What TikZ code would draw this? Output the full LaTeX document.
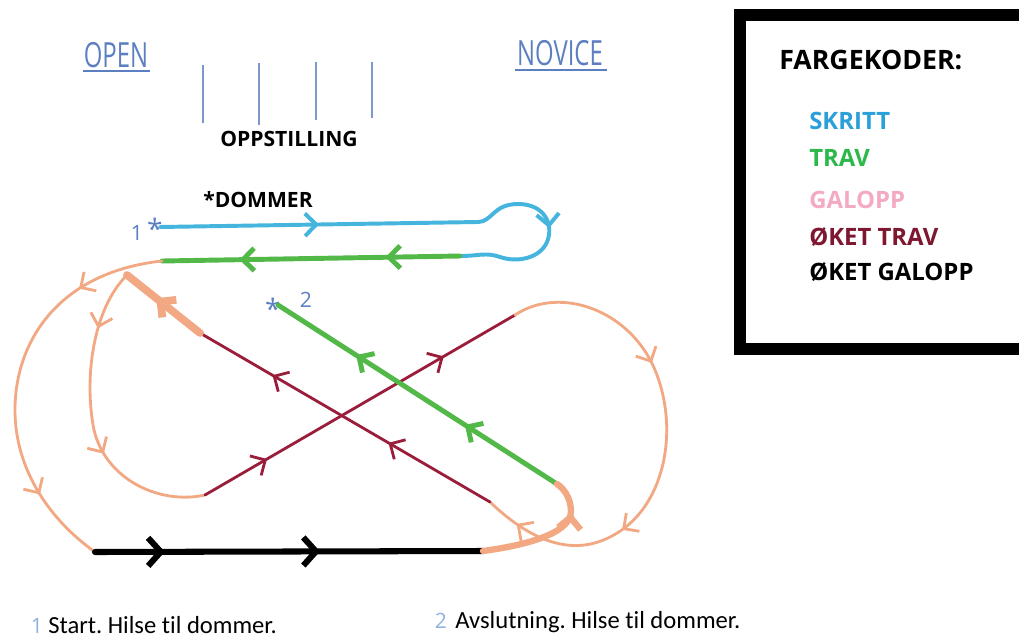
\documentclass[tikz,border=0pt]{standalone}
\usepackage{fontspec}
\setmainfont{Open Sans}
\newfontfamily\calib[Ligatures={NoCommon}]{Carlito}
\newfontfamily\hand{Open Sans}
\usetikzlibrary{arrows.meta,decorations.markings}
\frenchspacing
\definecolor{skblue}{HTML}{45B5DE}
\definecolor{legblue}{HTML}{2A9FD8}
\definecolor{trgreen}{HTML}{52B848}
\definecolor{leggreen}{HTML}{2DB84B}
\definecolor{galorange}{HTML}{F2A882}
\definecolor{legpink}{HTML}{F4AAC4}
\definecolor{okred}{HTML}{9A1D3C}
\definecolor{legred}{HTML}{7E1830}
\definecolor{penblue}{HTML}{5B7FC0}
\definecolor{lightpen}{HTML}{8FB3DF}
\tikzset{
  ar/.style={postaction={decorate,decoration={markings,mark=at position #1 with {\arrow{Straight Barb[length=8pt,width=16pt]}}}}},
  arb/.style={postaction={decorate,decoration={markings,mark=at position #1 with {\arrow{Straight Barb[length=9pt,width=20pt]}}}}},
  skrpath/.style={draw=skblue,line width=2.8pt,line cap=round},
  travpath/.style={draw=trgreen,line width=3.5pt,line cap=round},
  galpath/.style={draw=galorange,line width=2pt,line cap=round},
  okpath/.style={draw=okred,line width=2pt,line cap=round},
  okgal/.style={draw=black,line width=4.3pt,line cap=round},
  handlbl/.style={text=penblue,font=\hand\fontsize{17}{20}\selectfont,inner sep=0pt},
  boldlbl/.style={font=\bfseries\fontsize{15}{17}\selectfont,inner sep=0pt},
  leg/.style={font=\bfseries\fontsize{17}{20}\selectfont,inner sep=0pt,anchor=west},
  foot/.style={font=\calib\fontsize{17.5}{20}\selectfont,inner sep=0pt,anchor=base west},
}
\begin{document}
\begin{tikzpicture}[x=0.025cm,y=-0.025cm]
\useasboundingbox (0,0) rectangle (1019,638);
\clip (0,0) rectangle (1019,638);
\fill[white] (0,0) rectangle (1019,638);
% headings
\node[handlbl] (open) at (116,55) {\scalebox{1}[1.45]{OPEN}};
\draw[penblue,line width=0.8pt] (83,71) -- (150,71);
\node[handlbl] (novice) at (560,53) {\scalebox{1}[1.45]{NOVICE}};
\draw[penblue,line width=0.8pt] (515,70) -- (607,70);
\foreach \x/\a/\b in {203/65/123,259/63/125,316/62/120,372/62/118}
  \draw[penblue!80,line width=0.8pt] (\x,\a) -- (\x,\b);
\node[boldlbl] (opp) at (289,139) {OPPSTILLING};
\node[boldlbl] (dom) at (258,200) {*DOMMER};
% coordinates
\coordinate (b0) at (160,227);
\coordinate (b1) at (478,222);
\coordinate (g0) at (460,256);
\coordinate (g1) at (162,261);
\coordinate (j1) at (127,275);
\coordinate (bk0) at (95,552);
\coordinate (bk1) at (483,551);
\coordinate (r0) at (205,495);
\coordinate (r1) at (515,315);
\coordinate (r2) at (490,502);
\coordinate (r3) at (200,333);
\coordinate (s0) at (557,484);
\coordinate (s1) at (278,305);
% start marks
\node[handlbl,font=\hand\fontsize{15}{16}\selectfont] (one) at (137,233) {1};
\node[text=penblue,font=\fontsize{20}{20}\selectfont,inner sep=0pt] (st1) at (155,229) {*};
\node[text=penblue,font=\fontsize{20}{20}\selectfont,inner sep=0pt] (st2) at (273,309) {*};
\node[handlbl,font=\hand\fontsize{15}{16}\selectfont] (two) at (306,300) {2};
% SKRITT
\path[skrpath,ar=0.5] (b0) -- (b1);
\path[skrpath,ar=0.45] (b1) .. controls (492,222) and (493,204) .. (518,204)
  .. controls (545,204) and (554,225) .. (547,242)
  .. controls (540,258) and (518,263) .. (500,257)
  .. controls (485,252) and (480,256) .. (g0);
% TRAV top
\path[travpath,ar=0.25,ar=0.74] (g0) -- (g1);
% galopp outer
\path[galpath,ar=0.22,ar=0.8] (g1) .. controls (60,272) and (15,340) .. (15,410)
  .. controls (15,470) and (50,520) .. (bk0);
% galopp inner
\path[galpath,ar=0.2,ar=0.62] (j1) .. controls (92,310) and (84,380) .. (94,430)
  .. controls (106,480) and (160,505) .. (r0);
% oket trav up-right
\path[okpath,ar=0.2,ar=0.77] (r0) -- (r1);
% galopp right loop
\path[galpath,ar=0.33,ar=0.7,ar=0.93] (r1) .. controls (560,285) and (630,310) .. (655,370)
  .. controls (680,430) and (665,510) .. (610,537)
  .. controls (575,555) and (535,545) .. (r2);
% oket trav up-left
\path[okpath,ar=0.35,ar=0.75] (r2) -- (r3);
\path[draw=galorange,line width=5.5pt,line cap=round,ar=0.6] (r3) -- (j1);
% TRAV finish
\path[travpath,ar=0.33,ar=0.72] (s0) -- (s1);
% black
\path[okgal,arb=0.18,arb=0.58] (bk0) -- (bk1);
\path[draw=galorange,line width=4.5pt,line cap=round,ar=0.75] (bk1) .. controls (520,546) and (570,535) .. (571,512)
  .. controls (571,497) and (563,488) .. (s0);
% footer
\node[text=lightpen,font=\hand\fontsize{15}{16}\selectfont,inner sep=0pt,anchor=base] (f1n) at (37,633) {1};
\node[foot] (f1) at (48,633) {Start. Hilse til dommer.};
\node[text=lightpen,font=\hand\fontsize{15}{16}\selectfont,inner sep=0pt,anchor=base] (f2n) at (441,628) {2};
\node[foot] (f2) at (455,628) {Avslutning. Hilse til dommer.};
% legend
\draw[black,line width=8.5pt] (740,15) rectangle (1040,349);
\node[font=\bfseries\fontsize{19}{22}\selectfont,inner sep=0pt,anchor=west] (fk) at (779,60) {FARGEKODER:};
\node[leg,text=legblue] (l1) at (809,121) {SKRITT};
\node[leg,text=leggreen] (l2) at (809,158) {TRAV};
\node[leg,text=legpink] (l3) at (809,200) {GALOPP};
\node[leg,text=legred] (l4) at (809,237) {ØKET TRAV};
\node[leg,text=black] (l5) at (809,272) {ØKET GALOPP};
\end{tikzpicture}
\end{document}
